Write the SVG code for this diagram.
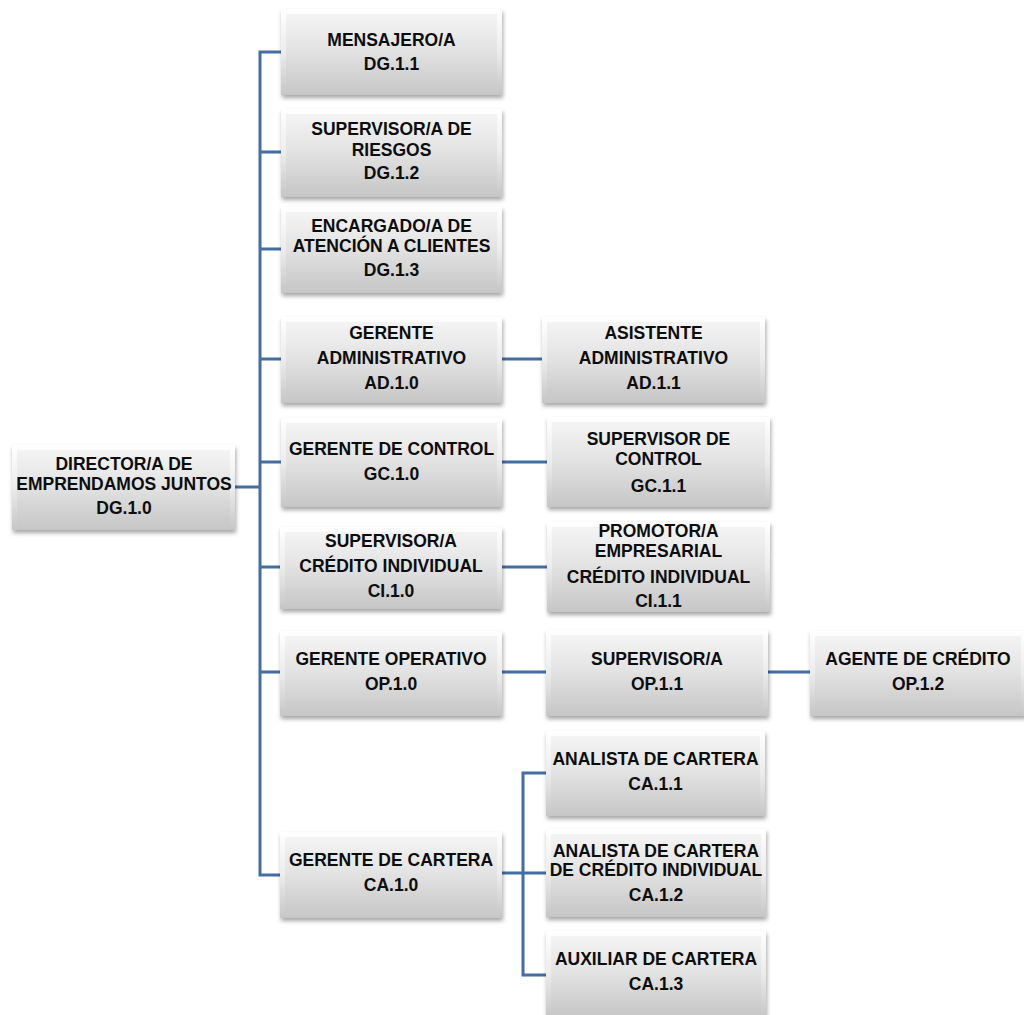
<svg xmlns="http://www.w3.org/2000/svg" width="1024" height="1015" viewBox="0 0 1024 1015">
<style>
.t{font-family:"Liberation Sans",Arial,sans-serif;font-weight:bold;font-size:17.5px;fill:#0d0d0d;text-anchor:middle}
.c{fill:none;stroke:#446da3;stroke-width:3}
.o{fill:url(#edge);filter:url(#sh)}
.f{fill:url(#face)}
</style>
<defs>
<linearGradient id="edge" x1="0" y1="0" x2="0" y2="1">
<stop offset="0" stop-color="#ffffff"/>
<stop offset="0.5" stop-color="#ececec"/>
<stop offset="1" stop-color="#c6c6c6"/>
</linearGradient>
<linearGradient id="face" x1="0" y1="0" x2="0" y2="1">
<stop offset="0" stop-color="#f4f4f4"/>
<stop offset="0.45" stop-color="#e4e4e4"/>
<stop offset="1" stop-color="#c9c9c9"/>
</linearGradient>
<filter id="sh" x="-10%" y="-10%" width="125%" height="130%">
<feDropShadow dx="1" dy="3" stdDeviation="2" flood-color="#000" flood-opacity="0.35"/>
</filter>
</defs>

<g id="connectors">
<path class="c" d="M281 52 H260 V875 H281"/>
<path class="c" d="M235 487 H260"/>
<path class="c" d="M260 152 H281 M260 249 H281 M260 359 H281 M260 462 H281 M260 567 H281 M260 672 H281"/>
<path class="c" d="M502 359 H542 M502 462 H547 M501 567 H547 M502 672 H546 M768 672 H810"/>
<path class="c" d="M502 873 H546 M546 773 H523 V975 H546"/>
</g>

<g id="n-dir">
<rect class="o" x="12" y="445" width="223" height="85"/>
<rect class="f" x="17" y="450" width="213" height="75"/>
<text class="t" x="124" y="470">DIRECTOR/A DE</text>
<text class="t" x="124" y="490">EMPRENDAMOS JUNTOS</text>
<text class="t" x="124" y="514">DG.1.0</text>
</g>

<g id="n-mens">
<rect class="o" x="281" y="9" width="221" height="86"/>
<rect class="f" x="286" y="14" width="211" height="76"/>
<text class="t" x="391.5" y="46">MENSAJERO/A</text>
<text class="t" x="391.5" y="70">DG.1.1</text>
</g>

<g id="n-riesgos">
<rect class="o" x="281" y="109" width="221" height="88"/>
<rect class="f" x="286" y="114" width="211" height="78"/>
<text class="t" x="391.5" y="135">SUPERVISOR/A DE</text>
<text class="t" x="391.5" y="156">RIESGOS</text>
<text class="t" x="391.5" y="179">DG.1.2</text>
</g>

<g id="n-encargado">
<rect class="o" x="281" y="207" width="221" height="86"/>
<rect class="f" x="286" y="212" width="211" height="76"/>
<text class="t" x="391.5" y="232">ENCARGADO/A DE</text>
<text class="t" x="391.5" y="252">ATENCIÓN A CLIENTES</text>
<text class="t" x="391.5" y="276">DG.1.3</text>
</g>

<g id="n-geradm">
<rect class="o" x="281" y="317" width="221" height="86"/>
<rect class="f" x="286" y="322" width="211" height="76"/>
<text class="t" x="391.5" y="339">GERENTE</text>
<text class="t" x="391.5" y="364">ADMINISTRATIVO</text>
<text class="t" x="391.5" y="389">AD.1.0</text>
</g>

<g id="n-asist">
<rect class="o" x="542" y="317" width="223" height="86"/>
<rect class="f" x="547" y="322" width="213" height="76"/>
<text class="t" x="653.5" y="339">ASISTENTE</text>
<text class="t" x="653.5" y="364">ADMINISTRATIVO</text>
<text class="t" x="653.5" y="389">AD.1.1</text>
</g>

<g id="n-gercontrol">
<rect class="o" x="281" y="418" width="221" height="89"/>
<rect class="f" x="286" y="423" width="211" height="79"/>
<text class="t" x="391.5" y="455">GERENTE DE CONTROL</text>
<text class="t" x="391.5" y="480">GC.1.0</text>
</g>

<g id="n-supcontrol">
<rect class="o" x="547" y="417" width="223" height="90"/>
<rect class="f" x="552" y="422" width="213" height="80"/>
<text class="t" x="658.5" y="445">SUPERVISOR DE</text>
<text class="t" x="658.5" y="465">CONTROL</text>
<text class="t" x="658.5" y="492">GC.1.1</text>
</g>

<g id="n-supci">
<rect class="o" x="280" y="527" width="222" height="82"/>
<rect class="f" x="285" y="532" width="212" height="72"/>
<text class="t" x="391" y="547">SUPERVISOR/A</text>
<text class="t" x="391" y="572">CRÉDITO INDIVIDUAL</text>
<text class="t" x="391" y="597">CI.1.0</text>
</g>

<g id="n-promotor">
<rect class="o" x="547" y="522" width="223" height="90"/>
<rect class="f" x="552" y="527" width="213" height="80"/>
<text class="t" x="658.5" y="537">PROMOTOR/A</text>
<text class="t" x="658.5" y="557">EMPRESARIAL</text>
<text class="t" x="658.5" y="583">CRÉDITO INDIVIDUAL</text>
<text class="t" x="658.5" y="607">CI.1.1</text>
</g>

<g id="n-gerop">
<rect class="o" x="280" y="631" width="222" height="85"/>
<rect class="f" x="285" y="636" width="212" height="75"/>
<text class="t" x="391" y="665">GERENTE OPERATIVO</text>
<text class="t" x="391" y="690">OP.1.0</text>
</g>

<g id="n-supop">
<rect class="o" x="546" y="630" width="222" height="86"/>
<rect class="f" x="551" y="635" width="212" height="76"/>
<text class="t" x="657" y="665">SUPERVISOR/A</text>
<text class="t" x="657" y="690">OP.1.1</text>
</g>

<g id="n-agente">
<rect class="o" x="810" y="631" width="216" height="85"/>
<rect class="f" x="815" y="636" width="206" height="75"/>
<text class="t" x="918" y="665">AGENTE DE CRÉDITO</text>
<text class="t" x="918" y="690">OP.1.2</text>
</g>

<g id="n-analista">
<rect class="o" x="546" y="731" width="219" height="85"/>
<rect class="f" x="551" y="736" width="209" height="75"/>
<text class="t" x="655.5" y="765">ANALISTA DE CARTERA</text>
<text class="t" x="655.5" y="790">CA.1.1</text>
</g>

<g id="n-gercartera">
<rect class="o" x="280" y="832" width="222" height="86"/>
<rect class="f" x="285" y="837" width="212" height="76"/>
<text class="t" x="391" y="866">GERENTE DE CARTERA</text>
<text class="t" x="391" y="891">CA.1.0</text>
</g>

<g id="n-analistaci">
<rect class="o" x="546" y="829" width="220" height="88"/>
<rect class="f" x="551" y="834" width="210" height="78"/>
<text class="t" x="656" y="857">ANALISTA DE CARTERA</text>
<text class="t" x="656" y="876">DE CRÉDITO INDIVIDUAL</text>
<text class="t" x="656" y="901">CA.1.2</text>
</g>

<g id="n-auxiliar">
<rect class="o" x="546" y="931" width="220" height="86"/>
<rect class="f" x="551" y="936" width="210" height="76"/>
<text class="t" x="656" y="965">AUXILIAR DE CARTERA</text>
<text class="t" x="656" y="990">CA.1.3</text>
</g>
</svg>
